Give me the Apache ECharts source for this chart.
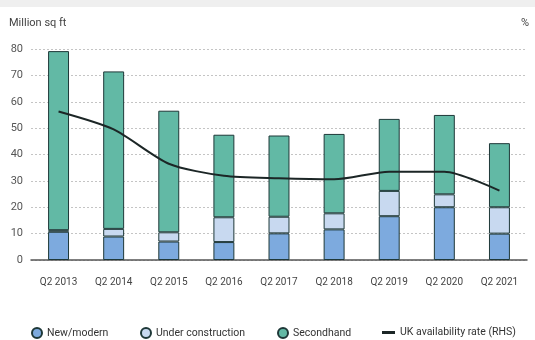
<!DOCTYPE html>
<html>
<head>
<meta charset="utf-8">
<script src="https://cdn.jsdelivr.net/npm/echarts@6/dist/echarts.min.js"></script>
<style>
  html, body { margin: 0; padding: 0; background: #ffffff; }
  #chart { width: 535px; height: 340px; }
</style>
</head>
<body>
<div id="chart"></div>
<script>
// Office floorspace availability by grade, Q2 each year
const categories = ['Q2 2013', 'Q2 2014', 'Q2 2015', 'Q2 2016', 'Q2 2017', 'Q2 2018', 'Q2 2019', 'Q2 2020', 'Q2 2021'];
const newModern = [10.7, 8.9, 7.0, 6.8, 10.1, 11.6, 16.6, 20.0, 10.0];
const underConstruction = [0.6, 2.9, 3.5, 9.4, 6.3, 6.1, 9.6, 4.9, 10.0];
const secondhand = [67.9, 59.7, 46.1, 31.3, 30.8, 30.1, 27.3, 30.1, 24.3];
const availabilityRate = [56.3, 49.5, 36.5, 31.9, 31.0, 30.6, 33.5, 33.5, 26.3];
const yTicks = [0, 10, 20, 30, 40, 50, 60, 70, 80];

const FONT = 'Roboto, "Noto Sans", sans-serif';
const EDGE = '#1e3838';

const chart = echarts.init(document.getElementById('chart'), null, { renderer: 'canvas' });

const barSeries = (name, data, color) => ({
  name, type: 'bar', stack: 'space', data,
  barWidth: '38%',
  itemStyle: { color, borderColor: EDGE, borderWidth: 1 },
  emphasis: { disabled: true }
});

const legendItem = (name, left, extra) => Object.assign({
  data: [name], left, top: 322,
  icon: 'circle', itemWidth: 10, itemHeight: 10,
  textStyle: { fontFamily: FONT, fontSize: 10.5, color: '#333' },
  selectedMode: false
}, extra || {});

chart.setOption({
  animation: false,
  backgroundColor: '#ffffff',
  graphic: [
    { type: 'rect', shape: { x: 0, y: 0, width: 535, height: 7 }, style: { fill: '#efefef' }, silent: true },
    { type: 'text', left: 9, top: 18, style: { text: 'Million sq ft', fontFamily: FONT, fontSize: 11, fill: '#444' } },
    { type: 'text', right: 6, top: 18, style: { text: '%', fontFamily: FONT, fontSize: 11, fill: '#444' } }
  ],
  legend: [
    legendItem('New/modern', 26),
    legendItem('Under construction', 135),
    legendItem('Secondhand', 272),
    legendItem('UK availability rate (RHS)', 377, { icon: 'rect', itemWidth: 13, itemHeight: 3 })
  ],
  grid: { left: 31, top: 49, width: 496, height: 211, containLabel: false },
  xAxis: {
    type: 'category', data: categories,
    axisLine: { lineStyle: { color: '#555', width: 1.5 } },
    axisTick: { show: false },
    axisLabel: { fontFamily: FONT, fontSize: 10, color: '#444', margin: 17, interval: 0 }
  },
  yAxis: [{
    type: 'value', min: yTicks[0], max: yTicks[yTicks.length - 1], interval: 10,
    axisLine: { show: false }, axisTick: { show: false },
    axisLabel: { fontFamily: FONT, fontSize: 11, color: '#555', margin: 8 },
    splitLine: { lineStyle: { color: '#c4c4c4', type: [2, 2], width: 1 } }
  }, {
    type: 'value', min: yTicks[0], max: yTicks[yTicks.length - 1], interval: 10,
    axisLine: { show: false }, axisTick: { show: false },
    axisLabel: { show: false }, splitLine: { show: false }
  }],
  series: [
    barSeries('New/modern', newModern, '#7daade'),
    barSeries('Under construction', underConstruction, '#c8d9f0'),
    barSeries('Secondhand', secondhand, '#62b9a5'),
    {
      name: 'UK availability rate (RHS)', type: 'line', yAxisIndex: 1,
      data: availabilityRate, smooth: 0.25,
      symbol: 'none', z: 5,
      itemStyle: { color: '#1c2626' },
      lineStyle: { color: '#1c2626', width: 2 },
      emphasis: { disabled: true }
    }
  ]
});
</script>
</body>
</html>
